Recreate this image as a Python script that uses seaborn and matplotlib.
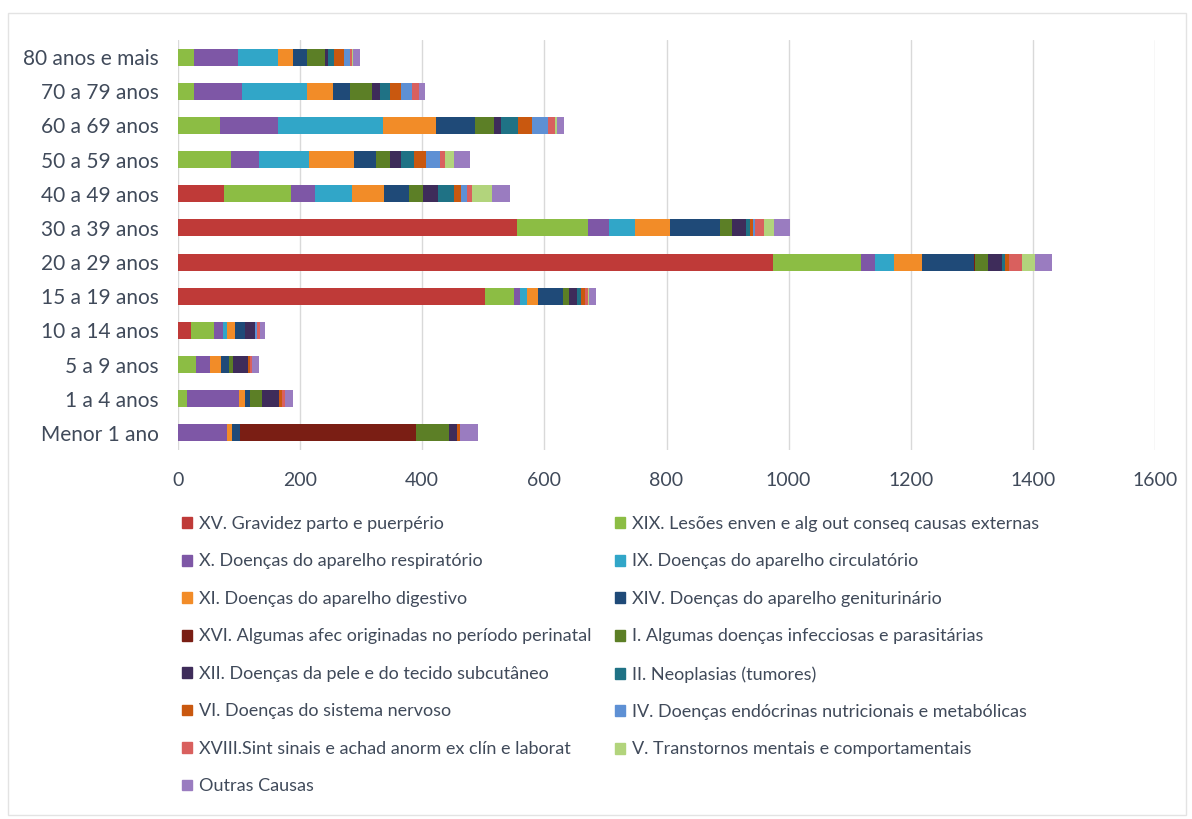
import matplotlib
matplotlib.use("Agg")
import matplotlib.pyplot as plt
import matplotlib.patches as mpatches
import seaborn as sns
import pandas as pd
import numpy as np

categories = ["80 anos e mais", "70 a 79 anos", "60 a 69 anos", "50 a 59 anos",
              "40 a 49 anos", "30 a 39 anos", "20 a 29 anos", "15 a 19 anos",
              "10 a 14 anos", "5 a 9 anos", "1 a 4 anos", "Menor 1 ano"]

series_names = [
    "XV. Gravidez parto e puerpério",
    "XIX. Lesões enven e alg out conseq causas externas",
    "X. Doenças do aparelho respiratório",
    "IX. Doenças do aparelho circulatório",
    "XI. Doenças do aparelho digestivo",
    "XIV. Doenças do aparelho geniturinário",
    "XVI. Algumas afec originadas no período perinatal",
    "I. Algumas doenças infecciosas e parasitárias",
    "XII. Doenças da pele e do tecido subcutâneo",
    "II. Neoplasias (tumores)",
    "VI. Doenças do sistema nervoso",
    "IV. Doenças endócrinas nutricionais e metabólicas",
    "XVIII.Sint sinais e achad anorm ex clín e laborat",
    "V. Transtornos mentais e comportamentais",
    "Outras Causas",
]

xv     = [0, 0, 0, 0, 75, 555, 974, 502, 21, 0, 0, 0]
xix    = [26, 26, 68, 87, 110, 117, 145, 48, 38, 29, 14, 0]
x_resp = [72, 79, 95, 46, 39, 34, 22, 10, 15, 24, 86, 80]
ix     = [65, 107, 173, 82, 61, 42, 32, 11, 6, 0, 0, 0]
xi     = [26, 42, 87, 74, 53, 58, 45, 19, 13, 18, 10, 9]
xiv    = [23, 28, 63, 35, 40, 82, 85, 40, 17, 13, 8, 12]
xvi    = [0, 0, 0, 0, 0, 0, 3, 0, 0, 0, 0, 289]
i_inf  = [29, 36, 31, 23, 24, 19, 20, 11, 0, 6, 19, 53]
xii    = [4, 12, 12, 19, 23, 23, 24, 13, 16, 25, 29, 14]
ii     = [10, 17, 28, 21, 27, 7, 5, 6, 0, 0, 0, 0]
vi     = [17, 18, 22, 19, 11, 4, 6, 6, 0, 3, 4, 5]
iv     = [10, 19, 27, 23, 10, 4, 0, 0, 3, 0, 0, 0]
xviii  = [3, 11, 11, 9, 9, 14, 21, 5, 6, 3, 5, 0]
v_ment = [2, 0, 4, 14, 33, 17, 22, 2, 0, 0, 0, 0]
outras = [11, 10, 11, 26, 28, 27, 28, 12, 7, 12, 14, 30]

values = [xv, xix, x_resp, ix, xi, xiv, xvi, i_inf, xii, ii, vi, iv, xviii, v_ment, outras]

colors = ["#BF3A38", "#8CBD44", "#7E57A6", "#31A6C8", "#F28C28", "#1F4A78",
          "#7A1E14", "#5C7F26", "#3E2C5A", "#1F7285", "#C9580F", "#5E90D4",
          "#D9605E", "#B2D47C", "#9A7CC0"]

xticks = [0, 200, 400, 600, 800, 1000, 1200, 1400, 1600]

sns.set_theme(style="white")
plt.rcParams['font.family'] = ['Lato', 'DejaVu Sans']
text_color = "#404A5A"

fig = plt.figure(figsize=(11.92, 8.19), dpi=100)
W, H = 1192, 819
ax = fig.add_axes([178 / W, 1 - 450 / H, (1155 - 178) / W, (450 - 40) / H])

cum = np.cumsum(np.array(values, dtype=float), axis=0)
for k in range(len(values) - 1, -1, -1):
    df = pd.DataFrame({"cat": categories, "val": cum[k]})
    sns.barplot(data=df, x="val", y="cat", orient="h", color=colors[k],
                width=0.5, saturation=1, ax=ax, linewidth=0, zorder=3)

ax.set_xlim(0, 1600)
ax.set_ylim(11.5, -0.5)
ax.set_xticks(xticks)
ax.set_xticklabels([str(t) for t in xticks])
ax.set_xlabel("")
ax.set_ylabel("")
ax.grid(axis="x", color="#D9D9D9", linewidth=1, zorder=0)
ax.grid(axis="y", visible=False)
for s in ax.spines.values():
    s.set_visible(False)
ax.tick_params(axis="x", labelsize=14, colors=text_color, pad=16, length=0)
ax.tick_params(axis="y", labelsize=15, colors=text_color, pad=14, length=0)

handles = [mpatches.Patch(color=c) for c in colors]
col1 = [0, 2, 4, 6, 8, 10, 12, 14]
col2 = [1, 3, 5, 7, 9, 11, 13]
leg_kw = dict(loc="upper left", frameon=False, fontsize=13, labelcolor=text_color,
              handlelength=0.55, handleheight=0.55, handletextpad=0.4,
              labelspacing=1.19, borderpad=0, borderaxespad=0)
fig.legend([handles[i] for i in col1], [series_names[i] for i in col1],
           bbox_to_anchor=(182 / W, 1 - 516 / H), **leg_kw)
fig.legend([handles[i] for i in col2], [series_names[i] for i in col2],
           bbox_to_anchor=(615 / W, 1 - 516 / H), **leg_kw)

fig.patches.append(mpatches.Rectangle((8 / W, 1 - 815 / H), (1186 - 8) / W, (815 - 13) / H,
                                      transform=fig.transFigure, fill=False,
                                      edgecolor="#E3E3E3", linewidth=1))

fig.savefig("out.png", dpi=100, facecolor="white")
